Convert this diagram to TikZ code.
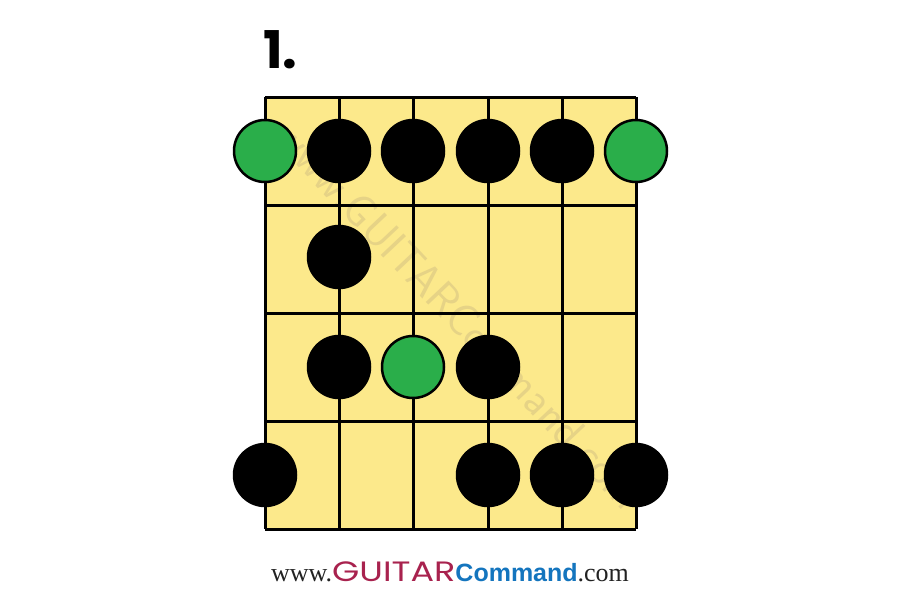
\documentclass[tikz,border=0pt]{standalone}
\usepackage{graphicx}
\usepackage{fontspec}
\setmainfont{Liberation Serif}
\newfontfamily\titlefont{Poppins}
\newfontfamily\guitarfont{Poppins}
\newfontfamily\cmdfont{Liberation Sans}
\definecolor{fret}{HTML}{FCE98B}
\definecolor{wmark}{HTML}{E6D386}
\definecolor{rootg}{HTML}{2AAE4A}
\definecolor{gred}{HTML}{A8224E}
\definecolor{gblue}{HTML}{1475BE}
\definecolor{wwwgray}{HTML}{222222}
\begin{document}
\begin{tikzpicture}[x=1pt,y=-1pt,
  gridline/.style={line width=3pt,black},
  note/.style={circle,fill=black,draw=black,line width=2.5pt,minimum size=62pt,inner sep=0pt},
  root/.style={note,fill=rootg}]
\useasboundingbox (0,0) rectangle (900,600);
\fill[fret] (265,97) rectangle (636,529);
\node[rotate=-46.7,text=wmark,font=\fontsize{45}{45}\selectfont\sffamily] (wm) at (459,315) {www.GUITARCommand.com};
\foreach \x in {265,339,413,488,562,636} \draw[gridline] (\x,97) -- (\x,529);
\foreach \y in {97,205,313,421,529} \draw[gridline] (265,\y) -- (636,\y);
% row 1
\node[root] (r1a) at (265,151) {};
\node[note] (r1b) at (339,151) {};
\node[note] (r1c) at (413,151) {};
\node[note] (r1d) at (488,151) {};
\node[note] (r1e) at (562,151) {};
\node[root] (r1f) at (636,151) {};
% row 2
\node[note] (r2b) at (339,257) {};
% row 3
\node[note] (r3b) at (339,367) {};
\node[root] (r3c) at (413,367) {};
\node[note] (r3d) at (488,367) {};
% row 4
\node[note] (r4a) at (265,475) {};
\node[note] (r4d) at (488,475) {};
\node[note] (r4e) at (562,475) {};
\node[note] (r4f) at (636,475) {};
% title
\node[anchor=base west,inner sep=0pt,font=\titlefont\bfseries\fontsize{52}{52}\selectfont] (title) at (263,68) {1.};
% footer
\node[anchor=base,inner sep=0pt] (footer) at (450,581) {\textcolor{wwwgray}{\fontsize{26}{26}\selectfont www.}\textcolor{gred}{\scalebox{1.25}[1]{\guitarfont\fontsize{28}{28}\selectfont GUITAR}}\textcolor{gblue}{\cmdfont\bfseries\fontsize{25}{25}\selectfont Command}\textcolor{wwwgray}{\fontsize{26}{26}\selectfont .com}};
\end{tikzpicture}
\end{document}
